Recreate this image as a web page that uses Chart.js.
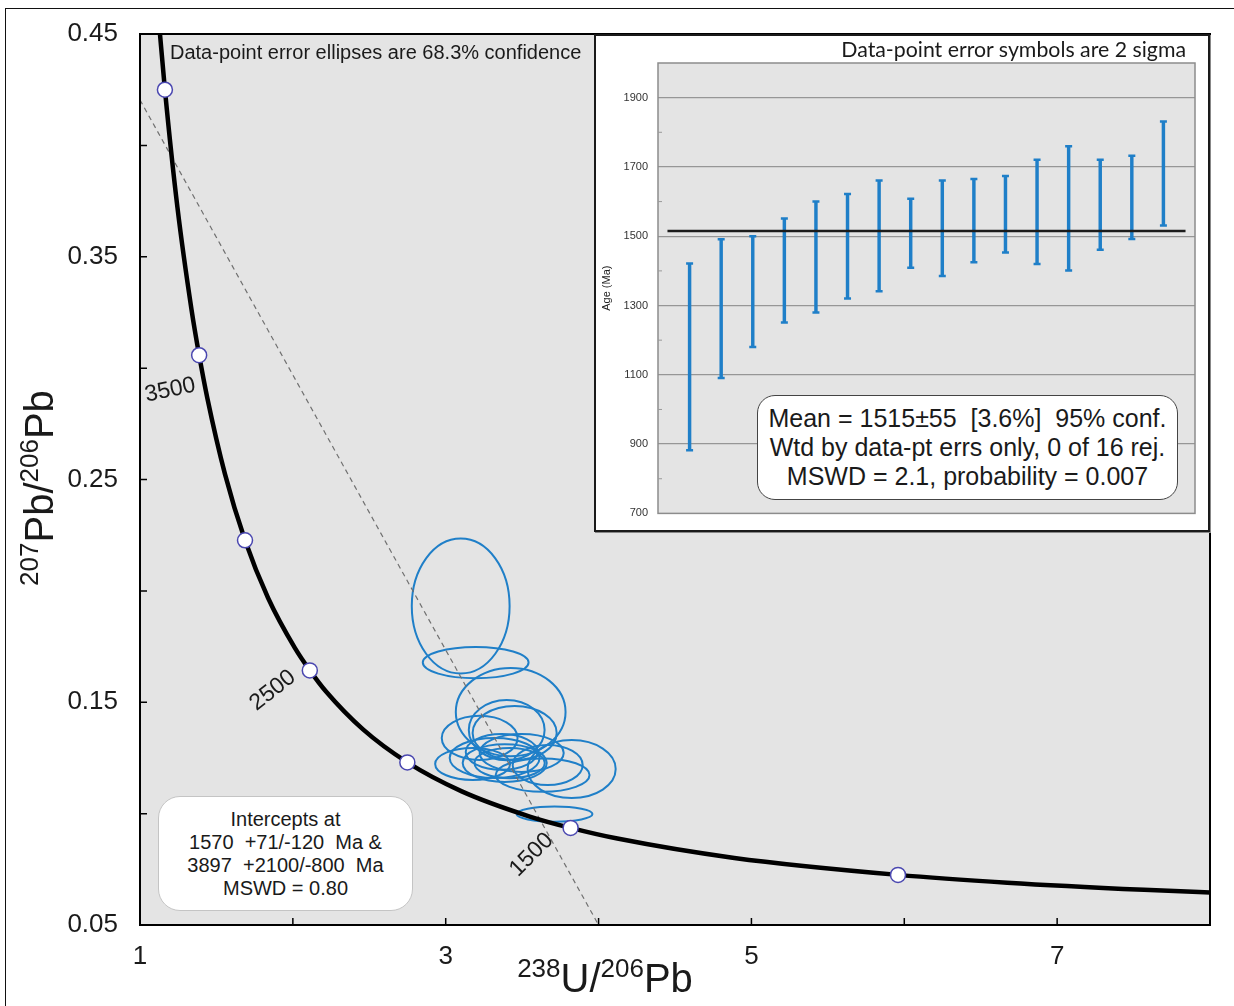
<!DOCTYPE html>
<html>
<head>
<meta charset="utf-8">
<script src="https://cdn.jsdelivr.net/npm/chart.js@4.4.1/dist/chart.umd.min.js"></script>
<style>
  html, body { margin: 0; padding: 0; background: #fff; }
  body { width: 1234px; height: 1006px; position: relative; overflow: hidden;
         font-family: 'Liberation Sans', Arial, sans-serif; color: #1a1a1a; }
  #outer { position: absolute; left: 5px; top: 8px; width: 1300px; height: 1100px;
           border: 1.5px solid #111; box-sizing: border-box; }
  #mainChart { position: absolute; left: 0; top: 0; }
  #mainTitle { position: absolute; left: 170px; top: 40px; font-size: 20px; line-height: 24px; white-space: nowrap; }
  #xTitle { position: absolute; left: 405px; top: 958px; width: 400px; text-align: center;
            font-size: 40px; line-height: 40px; white-space: nowrap; }
  #yTitle { position: absolute; left: -111px; top: 465px; width: 300px; height: 46px; text-align: center;
            font-size: 40px; line-height: 46px; white-space: nowrap; transform: rotate(-90deg); }
  .sup { font-size: 26px; vertical-align: 15px; line-height: 0; }
  #intercepts { position: absolute; left: 158px; top: 796px; width: 255px; height: 115px; box-sizing: border-box;
                background: #fff; border: 1px solid #c4c4c4; border-radius: 22px; text-align: center;
                font-size: 20px; line-height: 23px; padding-top: 11px; white-space: nowrap; }
  #inset { position: absolute; left: 594px; top: 34px; width: 616px; height: 498px; box-sizing: border-box;
           background: #fff; border: 2px solid #1a1a1a; box-shadow: 1px 1px 0 #888; }
  #insetChart { display: block; }
  #insetTitle { position: absolute; left: 786px; top: 37px; width: 400px; text-align: right;
                font-family: Lato, 'Open Sans', sans-serif; font-size: 21.3px; line-height: 24px; white-space: nowrap; }
  #stats { position: absolute; left: 757px; top: 395px; width: 421px; height: 105px; box-sizing: border-box;
           background: #fff; border: 1.5px solid #444; border-radius: 18px; text-align: center;
           font-size: 25px; line-height: 29px; padding-top: 8px; white-space: nowrap; }
</style>
</head>
<body>
<div id="outer"></div>
<canvas id="mainChart" width="1234" height="1006"></canvas>
<div id="mainTitle">Data-point error ellipses are 68.3% confidence</div>
<div id="xTitle"><span class="sup">238</span>U/<span class="sup">206</span>Pb</div>
<div id="yTitle"><span class="sup">207</span>Pb/<span class="sup">206</span>Pb</div>
<div id="intercepts">Intercepts at<br>1570&nbsp; +71/-120&nbsp; Ma &amp;<br>3897&nbsp; +2100/-800&nbsp; Ma<br>MSWD = 0.80</div>
<div id="inset"><canvas id="insetChart" width="612" height="494"></canvas></div>
<div id="insetTitle">Data-point error symbols are 2 sigma</div>
<div id="stats">Mean = 1515±55&nbsp; [3.6%]&nbsp; 95% conf.<br>Wtd by data-pt errs only, 0 of 16 rej.<br>MSWD = 2.1, probability = 0.007</div>

<script>
// ----------------------------------------------------------------------------
// Data
// ----------------------------------------------------------------------------

// concordia curve (238U/206Pb vs 207Pb/206Pb), ordered by increasing x
const curveX = [1.125, 1.163, 1.245, 1.337, 1.387, 1.440, 1.556, 1.687, 1.838, 2.013, 2.111, 2.217,
                2.459, 2.749, 3.105, 3.550, 3.817, 4.123, 4.888, 5.959, 6.674, 7.568, 8.105];
const curveY = [0.4545, 0.4250, 0.3721, 0.3263, 0.3058, 0.2867, 0.2524, 0.2227, 0.1968, 0.1744, 0.1643, 0.1548,
                0.1378, 0.1230, 0.1100, 0.0987, 0.0936, 0.0888, 0.0801, 0.0725, 0.0690, 0.0658, 0.0643];

// age markers on the curve (Ma)
const markerAges = [4000, 3500, 3000, 2500, 2000, 1500, 1000];
const markerX = [1.163, 1.387, 1.687, 2.111, 2.749, 3.817, 5.959];
const markerY = [0.4250, 0.3058, 0.2227, 0.1643, 0.1230, 0.0936, 0.0725];
const labelAges = [3500, 2500, 1500];

// discordia (dashed) end points
const discX = [1.0, 4.0];
const discY = [0.4204, 0.0500];

// error ellipses: centre and half-widths
const ellX  = [3.098, 3.196, 3.425, 3.399, 3.451, 3.222, 3.824, 3.712, 3.176, 3.320, 3.386, 3.497, 3.634, 3.418, 3.667, 3.366];
const ellY  = [0.1932, 0.1678, 0.1456, 0.1375, 0.1362, 0.1340, 0.1200, 0.0998, 0.1223, 0.1250, 0.1227, 0.1272, 0.1173, 0.1227, 0.1218, 0.1277];
const ellSx = [0.320, 0.346, 0.359, 0.248, 0.275, 0.248, 0.288, 0.248, 0.245, 0.294, 0.275, 0.275, 0.307, 0.230, 0.229, 0.235];
const ellSy = [0.0303, 0.0070, 0.0198, 0.0135, 0.0121, 0.0099, 0.0130, 0.0034, 0.0072, 0.0090, 0.0085, 0.0085, 0.0075, 0.0068, 0.0090, 0.0080];

// inset: weighted mean ages with 2 sigma bars
const spotIndex = [1, 2, 3, 4, 5, 6, 7, 8, 9, 10, 11, 12, 13, 14, 15, 16];
const ageLo = [882, 1091, 1180, 1251, 1280, 1320, 1341, 1409, 1385, 1425, 1453, 1420, 1401, 1461, 1492, 1531];
const ageHi = [1421, 1491, 1500, 1551, 1600, 1622, 1661, 1608, 1661, 1665, 1674, 1721, 1760, 1721, 1732, 1831];
const meanAge = 1515;
const meanSpan = [0.3, 16.7];

// ----------------------------------------------------------------------------
// Styling
// ----------------------------------------------------------------------------

const FONT = "'Liberation Sans', Arial, sans-serif";
const BLUE = '#1f7fc8';
const INK = '#1a1a1a';

// where the age labels sit relative to their marker (px) and their tilt (deg)
const labelStyle = [
    { dx: -29, dy: 35, rot: -12 },
    { dx: -37, dy: 20, rot: -38 },
    { dx: -39, dy: 27, rot: -45 }
];

/**
 * Grey plot background, black frame and short inward ticks
 */
const plotFrame = {
    id: 'plotFrame',
    beforeDraw(chart, args, opts) {
        const { ctx, chartArea: a } = chart;
        ctx.save();
        ctx.fillStyle = opts.fill;
        ctx.fillRect(a.left, a.top, a.right - a.left, a.bottom - a.top);
        ctx.restore();
    },
    afterDraw(chart, args, opts) {
        const { ctx, chartArea: a, scales } = chart;
        ctx.save();
        ctx.strokeStyle = opts.border;
        ctx.lineWidth = opts.borderWidth;
        ctx.strokeRect(a.left, a.top, a.right - a.left, a.bottom - a.top);

        ctx.lineWidth = opts.tickWidth;
        ctx.strokeStyle = opts.tickColor;
        ctx.beginPath();
        if (opts.xTicks) {
            scales.x.ticks.forEach(t => {
                if (t.value <= scales.x.min || t.value >= scales.x.max) return;
                const px = scales.x.getPixelForValue(t.value);
                ctx.moveTo(px, a.bottom);
                ctx.lineTo(px, a.bottom - opts.tickLen);
            });
        }
        scales.y.ticks.forEach(t => {
            if (t.value <= scales.y.min || t.value >= scales.y.max) return;
            if (opts.yTickFilter && !opts.yTickFilter(t.value)) return;
            const py = scales.y.getPixelForValue(t.value);
            ctx.moveTo(a.left, py);
            ctx.lineTo(a.left + opts.tickLen, py);
        });
        ctx.stroke();
        ctx.restore();
    }
};

/**
 * Error ellipses, drawn under the curve and markers
 */
const errorEllipses = {
    id: 'errorEllipses',
    beforeDatasetsDraw(chart) {
        const { ctx, chartArea: a, scales: { x, y } } = chart;
        ctx.save();
        ctx.beginPath();
        ctx.rect(a.left, a.top, a.right - a.left, a.bottom - a.top);
        ctx.clip();
        ctx.strokeStyle = BLUE;
        ctx.lineWidth = 2;
        ellX.forEach((cx, i) => {
            const px = x.getPixelForValue(cx);
            const py = y.getPixelForValue(ellY[i]);
            const rx = Math.abs(x.getPixelForValue(cx + ellSx[i]) - px);
            const ry = Math.abs(y.getPixelForValue(ellY[i] + ellSy[i]) - py);
            ctx.beginPath();
            ctx.ellipse(px, py, rx, ry, 0, 0, 2 * Math.PI);
            ctx.stroke();
        });
        ctx.restore();
    }
};

/**
 * Tilted age labels next to some of the markers
 */
const ageLabels = {
    id: 'ageLabels',
    afterDatasetsDraw(chart) {
        const { ctx, scales: { x, y } } = chart;
        ctx.save();
        ctx.font = '23px ' + FONT;
        ctx.fillStyle = INK;
        ctx.textAlign = 'center';
        ctx.textBaseline = 'middle';
        labelAges.forEach((age, i) => {
            const k = markerAges.indexOf(age);
            const s = labelStyle[i];
            ctx.save();
            ctx.translate(x.getPixelForValue(markerX[k]) + s.dx, y.getPixelForValue(markerY[k]) + s.dy);
            ctx.rotate(s.rot * Math.PI / 180);
            ctx.fillText(String(age), 0, 0);
            ctx.restore();
        });
        ctx.restore();
    }
};

// ----------------------------------------------------------------------------
// Main concordia diagram
// ----------------------------------------------------------------------------

new Chart(document.getElementById('mainChart'), {
    type: 'scatter',
    data: {
        datasets: [
            {
                label: 'age markers',
                data: markerX.map((v, i) => ({ x: v, y: markerY[i] })),
                pointRadius: 7.5,
                pointBackgroundColor: '#ffffff',
                pointBorderColor: '#4a47b0',
                pointBorderWidth: 1.5,
                clip: false,
                order: 0
            },
            {
                label: 'concordia',
                data: curveX.map((v, i) => ({ x: v, y: curveY[i] })),
                showLine: true,
                borderColor: '#000000',
                borderWidth: 4.5,
                pointRadius: 0,
                cubicInterpolationMode: 'monotone',
                clip: 0,
                order: 1
            },
            {
                label: 'discordia',
                data: discX.map((v, i) => ({ x: v, y: discY[i] })),
                showLine: true,
                borderColor: '#707070',
                borderWidth: 1.2,
                borderDash: [5, 4],
                pointRadius: 0,
                clip: 0,
                order: 2
            }
        ]
    },
    options: {
        responsive: false,
        animation: false,
        layout: { padding: { left: 0, top: 34, right: 24, bottom: 0 } },
        plugins: {
            legend: { display: false },
            tooltip: { enabled: false },
            plotFrame: {
                fill: '#e4e4e4', border: '#000', borderWidth: 2,
                tickColor: '#000', tickWidth: 1.5, tickLen: 7, xTicks: true
            }
        },
        scales: {
            x: {
                type: 'linear', min: 1, max: 8,
                afterFit: s => { s.height = 81; },
                grid: { display: false },
                border: { display: false },
                ticks: {
                    stepSize: 1, autoSkip: false, padding: 8, color: INK,
                    font: { family: FONT, size: 26 },
                    callback: v => (v % 2 === 1 ? v : '')
                }
            },
            y: {
                type: 'linear', min: 0.05, max: 0.45,
                afterFit: s => { s.width = 140; },
                grid: { display: false },
                border: { display: false },
                ticks: {
                    stepSize: 0.05, autoSkip: false, padding: 14, color: INK,
                    font: { family: FONT, size: 26 },
                    callback: v => {
                        const k = Math.round(v * 100);
                        return k % 10 === 5 ? (k / 100).toFixed(2) : '';
                    }
                }
            }
        }
    },
    plugins: [plotFrame, errorEllipses, ageLabels]
});

// ----------------------------------------------------------------------------
// Inset: weighted mean plot
// ----------------------------------------------------------------------------

const isMajor = v => v > 700 && v < 2000 && (v - 700) % 200 === 0;

new Chart(document.getElementById('insetChart'), {
    type: 'bar',
    data: {
        datasets: [
            {
                type: 'line',
                label: 'mean',
                data: meanSpan.map(x => ({ x: x, y: meanAge })),
                borderColor: '#1c1c1c',
                borderWidth: 2.5,
                pointRadius: 0,
                order: 0
            },
            {
                type: 'scatter',
                label: 'upper caps',
                data: spotIndex.map((n, i) => ({ x: n, y: ageHi[i] })),
                pointStyle: 'line',
                pointRadius: 3.5,
                pointBorderColor: BLUE,
                pointBorderWidth: 2.5,
                order: 1
            },
            {
                type: 'scatter',
                label: 'lower caps',
                data: spotIndex.map((n, i) => ({ x: n, y: ageLo[i] })),
                pointStyle: 'line',
                pointRadius: 3.5,
                pointBorderColor: BLUE,
                pointBorderWidth: 2.5,
                order: 1
            },
            {
                type: 'bar',
                label: '2 sigma',
                data: spotIndex.map((n, i) => ({ x: n, y: [ageLo[i], ageHi[i]] })),
                backgroundColor: BLUE,
                barThickness: 2.8,
                order: 2
            }
        ]
    },
    options: {
        responsive: false,
        animation: false,
        layout: { padding: { left: 0, top: 27, right: 13, bottom: 12 } },
        plugins: {
            legend: { display: false },
            tooltip: { enabled: false },
            plotFrame: {
                fill: '#e4e4e4', border: '#8c8c8c', borderWidth: 1.5,
                tickColor: '#9a9a9a', tickWidth: 1, tickLen: 4, xTicks: false,
                yTickFilter: v => !isMajor(v)
            }
        },
        scales: {
            x: { type: 'linear', min: 0, max: 17, offset: false, display: false },
            y: {
                type: 'linear', min: 700, max: 2000,
                afterFit: s => { s.width = 62; },
                border: { display: false },
                grid: {
                    drawTicks: false,
                    color: c => (isMajor(c.tick.value) ? '#969696' : 'rgba(0,0,0,0)'),
                    lineWidth: 1.3
                },
                ticks: {
                    stepSize: 100, autoSkip: false, padding: 10, color: '#333',
                    font: { family: FONT, size: 11 },
                    callback: v => ((v - 700) % 200 === 0 && v < 2000 ? v : '')
                },
                title: {
                    display: true, text: 'Age (Ma)', color: '#222',
                    font: { family: FONT, size: 11 },
                    padding: { top: 4, bottom: 0 }
                }
            }
        }
    },
    plugins: [plotFrame]
});
</script>
</body>
</html>
